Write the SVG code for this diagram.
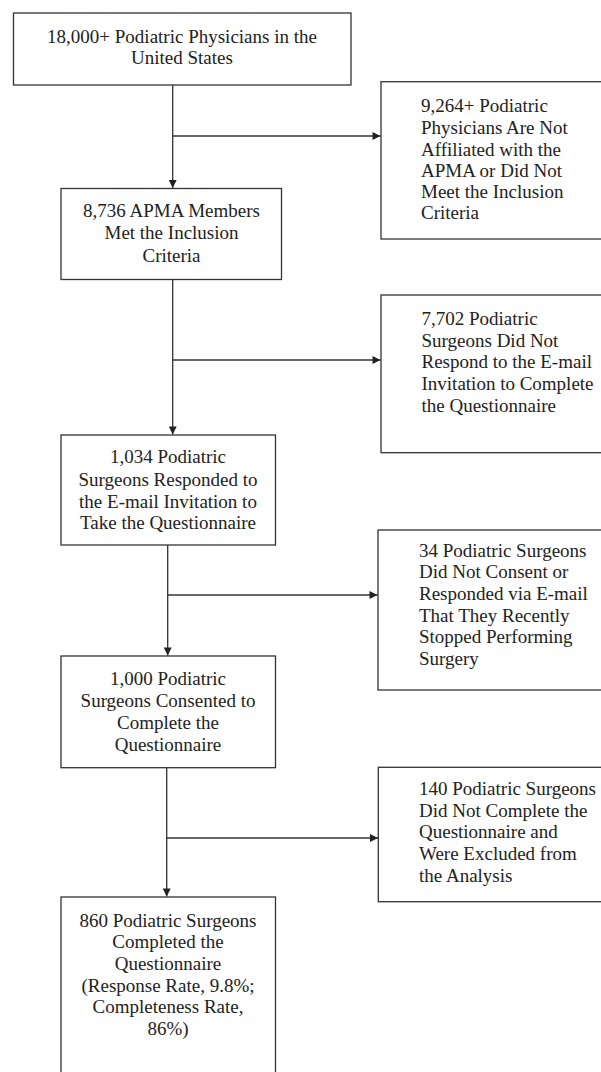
<svg xmlns="http://www.w3.org/2000/svg" width="601" height="1072" viewBox="0 0 601 1072">
<style>
.box{fill:#fff;stroke:#333;stroke-width:1.3}
.t{font-family:'Liberation Serif','DejaVu Serif',serif;font-size:19px;fill:#222}
.c{text-anchor:middle}
.conn{fill:none;stroke:#333;stroke-width:1.3}
</style>
<defs>
<marker id="arr" viewBox="0 0 10 10" refX="10" refY="5" markerWidth="9" markerHeight="8" markerUnits="userSpaceOnUse" orient="auto">
<path d="M0,0 L10,5 L0,10 Z" fill="#222"/>
</marker>
</defs>
<rect width="601" height="1072" fill="#fff"/>
<g id="connectors">
<path class="conn" d="M172.7,85 V188" marker-end="url(#arr)"/>
<path class="conn" d="M172.7,136 H380.5" marker-end="url(#arr)"/>
<path class="conn" d="M172.7,279.5 V434.5" marker-end="url(#arr)"/>
<path class="conn" d="M172.7,360 H380.5" marker-end="url(#arr)"/>
<path class="conn" d="M167.7,545 V655.5" marker-end="url(#arr)"/>
<path class="conn" d="M167.7,595 H377.5" marker-end="url(#arr)"/>
<path class="conn" d="M166.7,767.7 V896.5" marker-end="url(#arr)"/>
<path class="conn" d="M166.7,838 H378" marker-end="url(#arr)"/>
</g>
<g id="n1">
<rect class="box" x="13.5" y="13" width="337.5" height="72"/>
<text class="t c" font-family="Liberation Serif, DejaVu Serif, serif" x="182" y="42.7">18,000+ Podiatric Physicians in the</text>
<text class="t c" x="182" y="64">United States</text>
</g>
<g id="x1">
<rect class="box" x="381" y="81.7" width="230" height="157.3"/>
<text class="t" x="421" y="112.3">9,264+ Podiatric</text>
<text class="t" x="421" y="134">Physicians Are Not</text>
<text class="t" x="421" y="155.5">Affiliated with the</text>
<text class="t" x="421" y="176.7">APMA or Did Not</text>
<text class="t" x="421" y="198.3">Meet the Inclusion</text>
<text class="t" x="421" y="219.3">Criteria</text>
</g>
<g id="n2">
<rect class="box" x="61" y="188.5" width="220.5" height="91"/>
<text class="t c" x="171.5" y="217.3">8,736 APMA Members</text>
<text class="t c" x="171.5" y="239.3">Met the Inclusion</text>
<text class="t c" x="171.5" y="261.7">Criteria</text>
</g>
<g id="x2">
<rect class="box" x="381" y="295" width="230" height="157.7"/>
<text class="t" x="421.5" y="325">7,702 Podiatric</text>
<text class="t" x="421.5" y="346.7">Surgeons Did Not</text>
<text class="t" x="421.5" y="368.3">Respond to the E-mail</text>
<text class="t" x="421.5" y="390">Invitation to Complete</text>
<text class="t" x="421.5" y="411.7">the Questionnaire</text>
</g>
<g id="n3">
<rect class="box" x="61" y="435" width="214.5" height="110"/>
<text class="t c" x="168" y="463.3">1,034 Podiatric</text>
<text class="t c" x="168" y="485.7">Surgeons Responded to</text>
<text class="t c" x="168" y="507.7">the E-mail Invitation to</text>
<text class="t c" x="168" y="529.3">Take the Questionnaire</text>
</g>
<g id="x3">
<rect class="box" x="378" y="530" width="233" height="160"/>
<text class="t" x="419" y="556.7">34 Podiatric Surgeons</text>
<text class="t" x="419" y="578.3">Did Not Consent or</text>
<text class="t" x="419" y="600">Responded via E-mail</text>
<text class="t" x="419" y="621.7">That They Recently</text>
<text class="t" x="419" y="643.3">Stopped Performing</text>
<text class="t" x="419" y="665">Surgery</text>
</g>
<g id="n4">
<rect class="box" x="61" y="656" width="214.5" height="111.7"/>
<text class="t c" x="168" y="685">1,000 Podiatric</text>
<text class="t c" x="168" y="707.3">Surgeons Consented to</text>
<text class="t c" x="168" y="729.3">Complete the</text>
<text class="t c" x="168" y="750.7">Questionnaire</text>
</g>
<g id="x4">
<rect class="box" x="378.3" y="767.3" width="233" height="134.4"/>
<text class="t" x="419" y="795">140 Podiatric Surgeons</text>
<text class="t" x="419" y="816.7">Did Not Complete the</text>
<text class="t" x="419" y="838.3">Questionnaire and</text>
<text class="t" x="419" y="860">Were Excluded from</text>
<text class="t" x="419" y="882.3">the Analysis</text>
</g>
<g id="n5">
<rect class="box" x="61" y="897" width="214.5" height="190"/>
<text class="t c" x="168" y="926.7">860 Podiatric Surgeons</text>
<text class="t c" x="168" y="948.3">Completed the</text>
<text class="t c" x="168" y="970">Questionnaire</text>
<text class="t c" x="168" y="991.7">(Response Rate, 9.8%;</text>
<text class="t c" x="168" y="1013.3">Completeness Rate,</text>
<text class="t c" x="168" y="1035">86%)</text>
</g>
</svg>
